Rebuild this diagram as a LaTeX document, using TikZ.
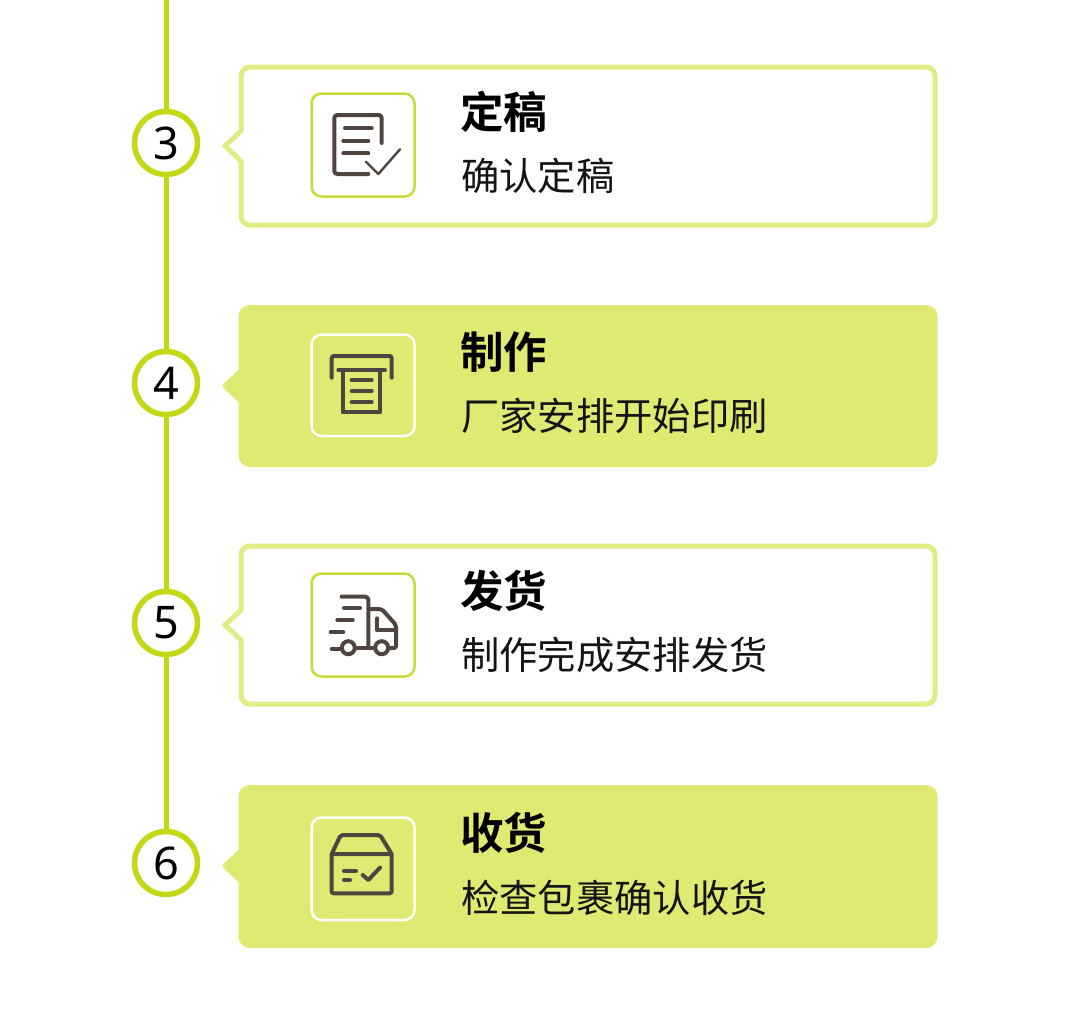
\documentclass[tikz,border=0pt]{standalone}
\usepackage{fontspec}
\setmainfont{Noto Sans}
\newfontfamily\cjkreg{Noto Sans CJK SC}
\newfontfamily\cjkbold{Noto Sans CJK SC Bold}
\definecolor{limeline}{HTML}{C4D716}
\definecolor{cardfill}{HTML}{E0E971}
\definecolor{cardedge}{HTML}{E2EC85}
\definecolor{iconedge}{HTML}{C9DB36}
\definecolor{inkbrown}{HTML}{4F4440}
\newcommand{\cardshape}[3]{%
  (241,#3-15) [rounded corners=9pt] -- (241,#1) -- (935,#1) -- (935,#2) -- (241,#2) [sharp corners] -- (241,#3+15) -- (225,#3) -- cycle}
\tikzset{
  x=1pt,y=-1pt,
  rail/.style={line width=5pt,draw=limeline},
  numdisc/.style={circle,draw=limeline,fill=white,line width=5.5pt,minimum size=63pt,inner sep=0pt,font=\fontsize{45}{45}\selectfont,text=black},
  cardline/.style={draw=cardedge,fill=white,line width=5pt,line join=miter},
  cardsolid/.style={draw=cardfill,fill=cardfill,line width=5pt,line join=round},
  iconbox/.style={draw=iconedge,fill=white,line width=2.5pt,rounded corners=10pt},
  iconboxw/.style={draw=white,fill=cardfill,line width=2.5pt,rounded corners=10pt},
  ink/.style={draw=inkbrown,line width=4pt,line cap=round,line join=round},
  inkthin/.style={draw=inkbrown,line width=2.4pt,line cap=round,line join=round},
  titletext/.style={anchor=west,inner sep=0pt,font=\cjkbold\fontsize{43.5}{44}\selectfont,text=black},
  subtext/.style={anchor=west,inner sep=0pt,font=\cjkreg\fontsize{38.3}{39}\selectfont,text=black!92},
}
\begin{document}
\begin{tikzpicture}
\useasboundingbox[fill=white] (0,0) rectangle (1080,1010);
% cards
\path[cardline] \cardshape{67}{225}{146};
\path[cardsolid] \cardshape{307.5}{464.5}{386};
\path[cardline] \cardshape{546}{704}{625};
\path[cardsolid] \cardshape{787.5}{945.5}{866};
% timeline
\coordinate (railtop) at (166,0);
\node[numdisc] (n3) at (166,143) {\hspace{1pt}3};
\node[numdisc] (n4) at (166,383) {\hspace{1pt}4};
\node[numdisc] (n5) at (166,623) {\hspace{1pt}5};
\node[numdisc] (n6) at (166,863) {\hspace{1pt}6};
\draw[rail] (railtop) -- (n3);
\draw[rail] (n3) -- (n4);
\draw[rail] (n4) -- (n5);
\draw[rail] (n5) -- (n6);
% icon boxes
\draw[iconbox] (311.5,93.5) rectangle (414.5,196.5);
\draw[iconboxw] (311.5,334.5) rectangle (414.5,436);
\draw[iconbox] (311.5,573.5) rectangle (414.5,676.5);
\draw[iconboxw] (311.5,817.5) rectangle (414.5,920);
% icon 3: document with check
\draw[ink,rounded corners=3pt] (368.3,174) -- (334.3,174) -- (334.3,115) -- (381.7,115) -- (381.7,143);
\draw[ink] (345,128.3) -- (371.7,128.3);
\draw[ink] (343.3,140.7) -- (368.3,140.7);
\draw[ink] (343.3,153.3) -- (368.3,153.3);
\draw[inkthin] (366,161.7) -- (378.3,174) -- (400,149.3);
% icon 4: printer
\draw[ink,rounded corners=2pt] (331.7,377.7) -- (331.7,356) -- (391.7,356) -- (391.7,377.7);
\draw[ink] (338.3,370) -- (385,370);
\draw[ink] (342.7,370) -- (342.7,412.3) -- (380,412.3) -- (380,370);
\draw[ink] (351.7,380.3) -- (371.7,380.3);
\draw[ink] (351.7,391) -- (371.7,391);
\draw[ink] (351.7,402.3) -- (371.7,402.3);
% icon 5: truck
\draw[ink,rounded corners=3pt] (341.7,596.7) -- (368.3,596.7) -- (368.3,648);
\draw[ink,rounded corners=2pt] (369.3,609) -- (381.7,609) -- (396,625) -- (396,648) -- (390,648);
\draw[ink] (377.3,618.3) -- (377.3,630) -- (394,630);
\draw[ink] (348.3,647.7) circle[radius=6.5pt];
\draw[ink] (381.7,647.7) circle[radius=6.5pt];
\draw[ink] (356,648) -- (374,648);
\draw[ink] (331.7,649) -- (341,649);
\draw[ink] (344,607.7) -- (360,607.7);
\draw[ink] (337.3,620) -- (352.7,620);
\draw[ink] (330.7,632.3) -- (343.3,632.3);
% icon 6: parcel
\draw[ink,rounded corners=2pt] (331.7,854) -- (331.7,893.3) -- (391.7,893.3) -- (391.7,854);
\draw[ink,rounded corners=2pt] (331.7,854) -- (340.7,835) -- (380,835) -- (391.7,854) -- cycle;
\draw[ink] (344,870.7) -- (356,870.7);
\draw[ink] (344,879.7) -- (350,879.7);
\draw[ink] (362.7,875) -- (368.3,880) -- (380,867.7);
% texts
\node[titletext] (t3) at (460,112) {定稿};
\node[subtext] (s3) at (461,176) {确认定稿};
\node[titletext] (t4) at (460,352) {制作};
\node[subtext] (s4) at (461,416) {厂家安排开始印刷};
\node[titletext] (t5) at (460,591) {发货};
\node[subtext] (s5) at (461,655) {制作完成安排发货};
\node[titletext] (t6) at (460,833) {收货};
\node[subtext] (s6) at (461,898) {检查包裹确认收货};
\end{tikzpicture}
\end{document}
